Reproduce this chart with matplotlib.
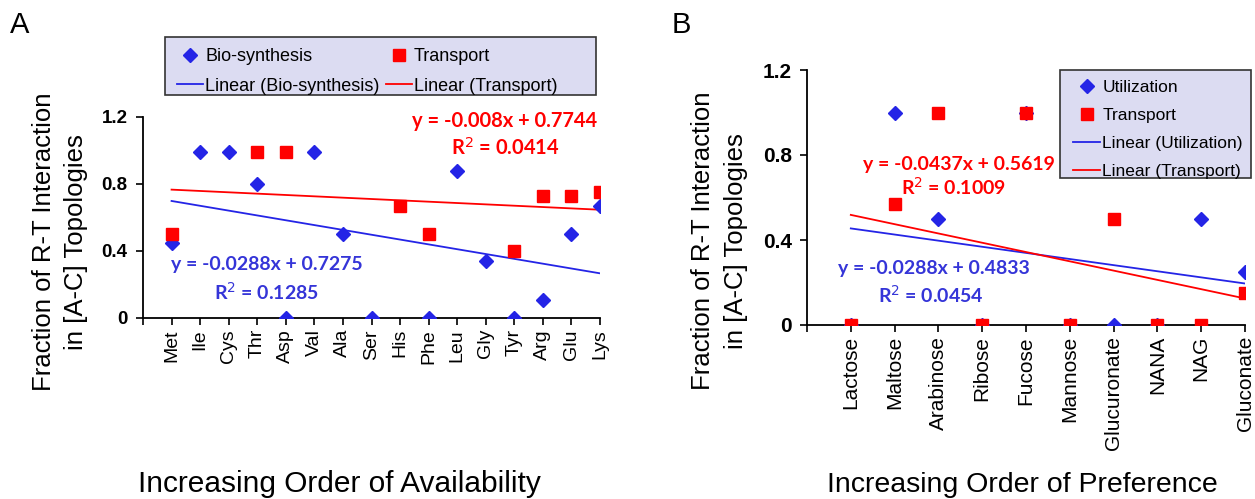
import numpy as np
import matplotlib
matplotlib.use('Agg')
import matplotlib.pyplot as plt
from matplotlib.patches import Rectangle

plt.rcParams['font.family'] = ['Liberation Sans', 'DejaVu Sans']

# Panel A data (amino acids)
aa_labels = ['Met', 'Ile', 'Cys', 'Thr', 'Asp', 'Val', 'Ala', 'Ser',
             'His', 'Phe', 'Leu', 'Gly', 'Tyr', 'Arg', 'Glu', 'Lys']
aa_biosynthesis = [0.45, 0.99, 0.99, 0.80, 0.0, 0.99, 0.50, 0.0,
                   np.nan, 0.0, 0.88, 0.34, 0.0, 0.11, 0.50, 0.67]
aa_transport = [0.50, np.nan, np.nan, 0.99, 0.99, np.nan, np.nan, np.nan,
                0.67, 0.50, np.nan, np.nan, 0.40, 0.73, 0.73, 0.75]
aa_fit_bio = (-0.0288, 0.7275, 0.1285)
aa_fit_tr = (-0.008, 0.7744, 0.0414)

# Panel B data (sugars)
sugar_labels = ['Lactose', 'Maltose', 'Arabinose', 'Ribose', 'Fucose',
                'Mannose', 'Glucuronate', 'NANA', 'NAG', 'Gluconate']
sugar_utilization = [0.0, 1.0, 0.5, 0.0, 1.0, 0.0, 0.0, 0.0, 0.5, 0.25]
sugar_transport = [0.0, 0.57, 1.0, 0.0, 1.0, 0.0, 0.5, 0.0, 0.0, 0.15]
sugar_fit_util = (-0.0288, 0.4833, 0.0454)
sugar_fit_tr = (-0.0437, 0.5619, 0.1009)

BLUE = '#2424e6'
RED = '#ff0000'
TXT_BLUE = '#3535d8'
LEG_BG = '#dcdcf2'
EQ_FONT = ['Lato', 'DejaVu Sans']
W, H = 1255, 499


def eq_text(fit):
    slope, icpt, r2 = fit
    return 'y = %gx + %.4f' % (slope, icpt), 'R$^2$ = %.4f' % r2


def draw_panel(ax, labels, s1, s2, fit1, fit2, names, xlabel, cat_size, ytick_size, xl_size):
    n = len(labels)
    x = np.arange(1, n + 1)
    ax.plot(x, s1, linestyle='none', marker='D', ms=7.5, color=BLUE,
            mec=BLUE, label=names[0], zorder=3)
    ax.plot(x, s2, linestyle='none', marker='s', ms=8, color=RED,
            mec=RED, label=names[1], zorder=4)
    xf = np.array([1, n])
    ax.plot(xf, fit1[0] * xf + fit1[1], color=BLUE, lw=1.3,
            label='Linear (%s)' % names[0], zorder=2)
    ax.plot(xf, fit2[0] * xf + fit2[1], color=RED, lw=1.3,
            label='Linear (%s)' % names[1], zorder=2)

    ax.set_xlim(0, n)
    ax.set_ylim(0, 1.2)
    ax.set_yticks([0, 0.4, 0.8, 1.2])
    ax.set_yticklabels(['0', '0.4', '0.8', '1.2'], fontweight='bold', fontsize=ytick_size)
    ax.set_xticks(np.arange(0, n + 1))
    ax.set_xticklabels([''] + labels, rotation=90, fontsize=cat_size)
    ax.tick_params(axis='both', direction='out', length=5, width=1.2, color='black')
    ax.tick_params(axis='x', pad=3)
    ax.tick_params(axis='y', pad=6)
    for s in ['top', 'right']:
        ax.spines[s].set_visible(False)
    for s in ['left', 'bottom']:
        ax.spines[s].set_linewidth(1.3)
    ax.set_xlabel(xlabel, fontsize=xl_size, labelpad=0)
    ax.set_ylabel('Fraction of R-T Interaction\nin [A-C] Topologies',
                  fontsize=18.5, linespacing=1.45)


def add_eq(ax, fit, color, pos_eq, pos_r2, size=14):
    e, r = eq_text(fit)
    ax.text(pos_eq[0], pos_eq[1], e, transform=ax.transAxes, color=color, fontsize=size,
            fontweight='bold', family=EQ_FONT, ha='center', va='center')
    ax.text(pos_r2[0], pos_r2[1], r, transform=ax.transAxes, color=color, fontsize=size,
            fontweight='bold', family=EQ_FONT, ha='center', va='center')


def legend_box(x0, y0, x1, y1):
    # Excel-style legend frame, in pixel coordinates from the top-left
    rect = Rectangle((x0 / W, 1 - y1 / H), (x1 - x0) / W, (y1 - y0) / H,
                     transform=fig.transFigure, facecolor=LEG_BG,
                     edgecolor='#333333', linewidth=1.2, zorder=1)
    fig.add_artist(rect)


fig = plt.figure(figsize=(12.55, 4.99), dpi=100)

# ---- Panel A
axA = fig.add_axes([143 / W, 1 - 318 / H, 457 / W, 201 / H])
draw_panel(axA, aa_labels, aa_biosynthesis, aa_transport, aa_fit_bio, aa_fit_tr,
           ['Bio-synthesis', 'Transport'], 'Increasing Order of Availability', 14, 13.5, 21.5)
axA.yaxis.set_label_coords(-0.12, 0.38)
axA.xaxis.set_label_coords(0.429, -0.755)
add_eq(axA, aa_fit_tr, RED, (0.792, 0.98), (0.792, 0.845), size=14.5)
add_eq(axA, aa_fit_bio, TXT_BLUE, (0.27, 0.265), (0.27, 0.13))
legend_box(165, 37, 596, 95)
hA, lA = axA.get_legend_handles_labels()
fig.legend([hA[0], hA[2], hA[1], hA[3]], [lA[0], lA[2], lA[1], lA[3]],
           ncol=2, loc='upper left', bbox_to_anchor=(168 / W, 1 - 39 / H),
           fontsize=13, frameon=False, handlelength=1.45, handletextpad=0.1,
           columnspacing=0.35, labelspacing=0.7, borderpad=0)

# ---- Panel B
axB = fig.add_axes([807 / W, 1 - 325 / H, 438 / W, 255 / H])
draw_panel(axB, sugar_labels, sugar_utilization, sugar_transport, sugar_fit_util,
           sugar_fit_tr, ['Utilization', 'Transport'], 'Increasing Order of Preference',
           15, 15, 20.5)
axB.yaxis.set_label_coords(-0.135, 0.33)
axB.xaxis.set_label_coords(0.491, -0.575)
add_eq(axB, sugar_fit_tr, RED, (0.347, 0.63), (0.335, 0.54))
add_eq(axB, sugar_fit_util, TXT_BLUE, (0.29, 0.22), (0.283, 0.12))
legend_box(1060, 70, 1251, 178)
hB, lB = axB.get_legend_handles_labels()
fig.legend(hB, lB, loc='upper left', bbox_to_anchor=(1064 / W, 1 - 71 / H),
           fontsize=12.5, frameon=False, handlelength=1.6, handletextpad=0.1,
           labelspacing=0.75, borderpad=0)

fig.text(10 / W, 1 - 25 / H, 'A', fontsize=21, va='center', ha='left')
fig.text(672 / W, 1 - 25 / H, 'B', fontsize=21, va='center', ha='left')

fig.savefig('out.png', dpi=100)
